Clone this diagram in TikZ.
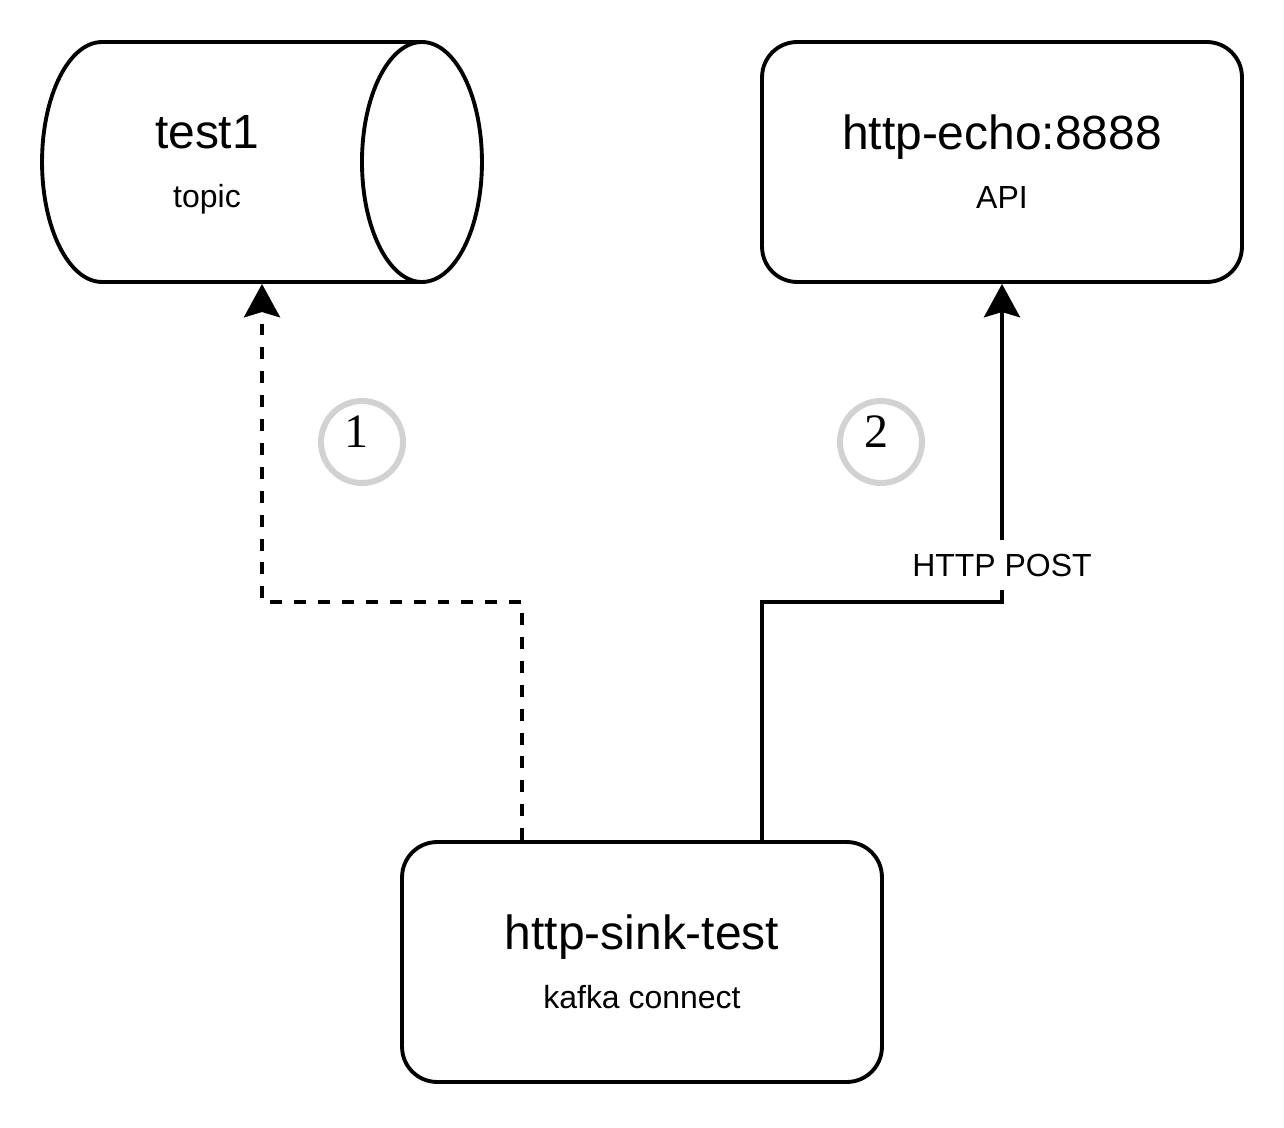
\documentclass[tikz,border=0pt]{standalone}
\usepackage{fontspec}
\setmainfont{Liberation Sans}
\newfontfamily\numfont{Liberation Serif}
\usetikzlibrary{positioning,arrows.meta,calc}

\newcommand\nametext{\fontsize{27.3}{33.6}\selectfont}
\newcommand\roletext{\fontsize{18.2}{33.6}\selectfont}

\begin{document}
\begin{tikzpicture}[
    x=0.02cm, y=-0.02cm,
    service/.style={draw, line width=2.2pt, rounded corners=20pt,
        minimum width=9.6cm, minimum height=4.8cm, align=center, font=\roletext},
    flow/.style={line width=2.2pt, -{Stealth[length=19pt, width=20.5pt, inset=3pt]}},
    stepring/.style={circle, draw=gray!35, line width=3.4pt, minimum size=1.64cm, inner sep=0pt},
    stepnum/.style={font=\numfont\fontsize{27.3}{30}\selectfont, inner sep=0pt}
]
    \useasboundingbox (0,0) rectangle (1284,1128);

    % Topic cylinder (lying on its side)
    \node[minimum width=8.8cm, minimum height=4.8cm, inner sep=0pt, outer sep=0pt] (test1) at (262,162) {};
    \draw[line width=2.2pt, line join=round]
        ([xshift=-1.2cm]test1.north east) -- ([xshift=1.2cm]test1.north west)
        arc[start angle=90, end angle=270, x radius=1.2cm, y radius=2.4cm]
        -- ([xshift=-1.2cm]test1.south east);
    \draw[line width=2.2pt] ([xshift=-1.2cm]test1.east) ellipse[x radius=1.2cm, y radius=2.4cm];
    \node[align=center, font=\roletext] (test1txt) at (207,165) {{\nametext test1}\\topic};

    % API and connector boxes
    \node[service] (api) at (1002,162) {{\nametext http-echo:8888}\\API};
    \node[service] (sink) at (642,962) {{\nametext http-sink-test}\\kafka connect};

    % Connectors
    \coordinate (bendL) at (262,602);
    \coordinate (bendR) at (1002,602);
    \draw[flow, dash pattern=on 6.8pt off 6.8pt, shorten >=1.1pt] ([xshift=-2.4cm]sink.north) |- (bendL) -- (test1.south);
    \draw[flow] ([xshift=2.4cm]sink.north) |- (bendR)
        -- node[pos=0.116, fill=white, font=\roletext, inner xsep=2pt, inner ysep=8pt] (post) {HTTP POST} (api.south);

    % Step markers
    \node[stepring] (ring1) at (362,442) {};
    \node[stepnum] (num1) at (356,432) {1};
    \node[stepring] (ring2) at (881,442) {};
    \node[stepnum] (num2) at (876,432) {2};

\end{tikzpicture}
\end{document}
